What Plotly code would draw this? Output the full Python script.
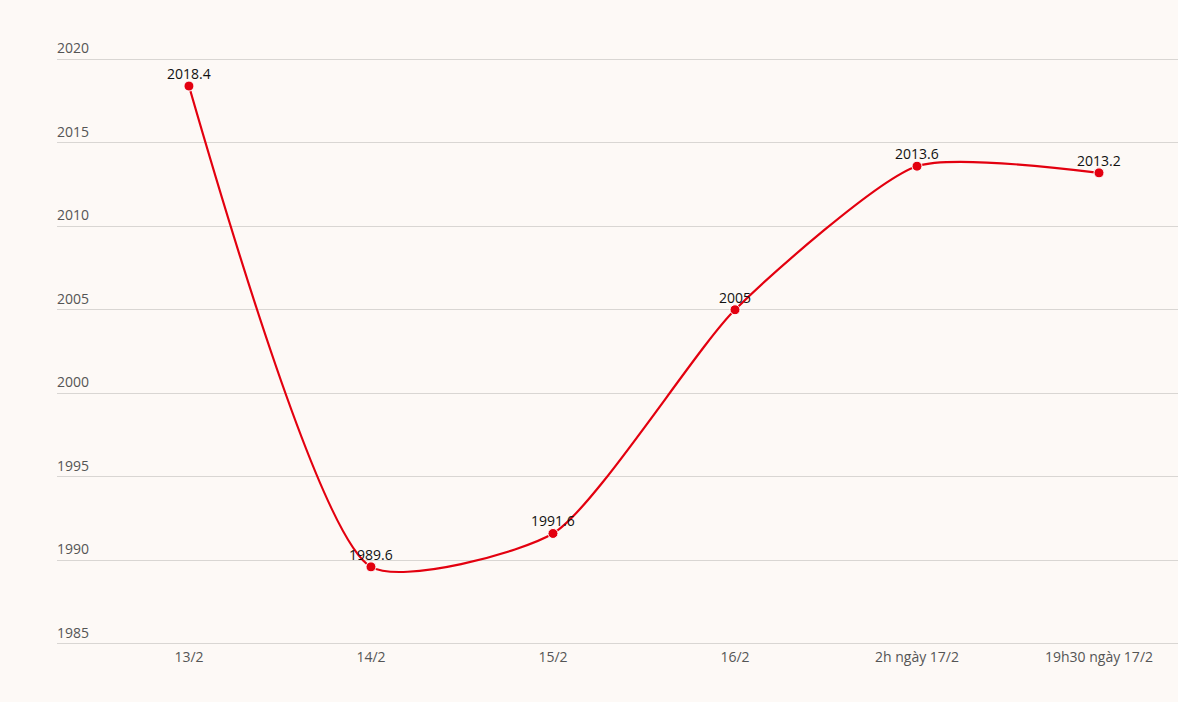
import plotly.graph_objects as go

categories = ["13/2", "14/2", "15/2", "16/2", "2h ngày 17/2", "19h30 ngày 17/2"]
values = [2018.4, 1989.6, 1991.6, 2005, 2013.6, 2013.2]
labels = ["2018.4", "1989.6", "1991.6", "2005", "2013.6", "2013.2"]
y_ticks = [1985, 1990, 1995, 2000, 2005, 2010, 2015, 2020]

BG = "#fdf9f6"
RED = "#e3000f"
FONT = "Open Sans"

fig = go.Figure(go.Scatter(
    x=list(range(len(categories))), y=values,
    mode="lines+markers",
    line=dict(color=RED, width=2.2, shape="spline", smoothing=0.6),
    marker=dict(color=RED, size=10, line=dict(color="white", width=1)),
    cliponaxis=False,
    hoverinfo="skip",
))

for i, (v, lab) in enumerate(zip(values, labels)):
    fig.add_annotation(
        x=i, y=v, xref="x", yref="y", text=lab,
        xanchor="center", yanchor="bottom", showarrow=False,
        yshift=1,
        font=dict(family=FONT, size=14, color="#111111"),
    )

for t in y_ticks:
    fig.add_annotation(
        x=0, xref="paper", y=t, yref="y", text=str(t),
        xanchor="left", yanchor="bottom", showarrow=False,
        xshift=-2, yshift=0,
        font=dict(family=FONT, size=14, color="#555555"),
    )

fig.update_layout(
    width=1178, height=702,
    paper_bgcolor=BG, plot_bgcolor=BG,
    margin=dict(l=57, r=0, t=56, b=55),
    showlegend=False,
    font=dict(family=FONT, size=14, color="#555555"),
    xaxis=dict(
        tickmode="array", tickvals=list(range(len(categories))), ticktext=categories,
        range=[-0.725, 5.434], showgrid=False, zeroline=False, showline=False,
        ticks="", tickfont=dict(family=FONT, size=14, color="#555555"),
    ),
    yaxis=dict(
        range=[1984.8, 2020.2], tickvals=y_ticks, showticklabels=False,
        ticks="",
        showgrid=True, gridcolor="#d9d6d3", gridwidth=1,
        zeroline=False, showline=False,
    ),
)

fig.write_html("out.html")
